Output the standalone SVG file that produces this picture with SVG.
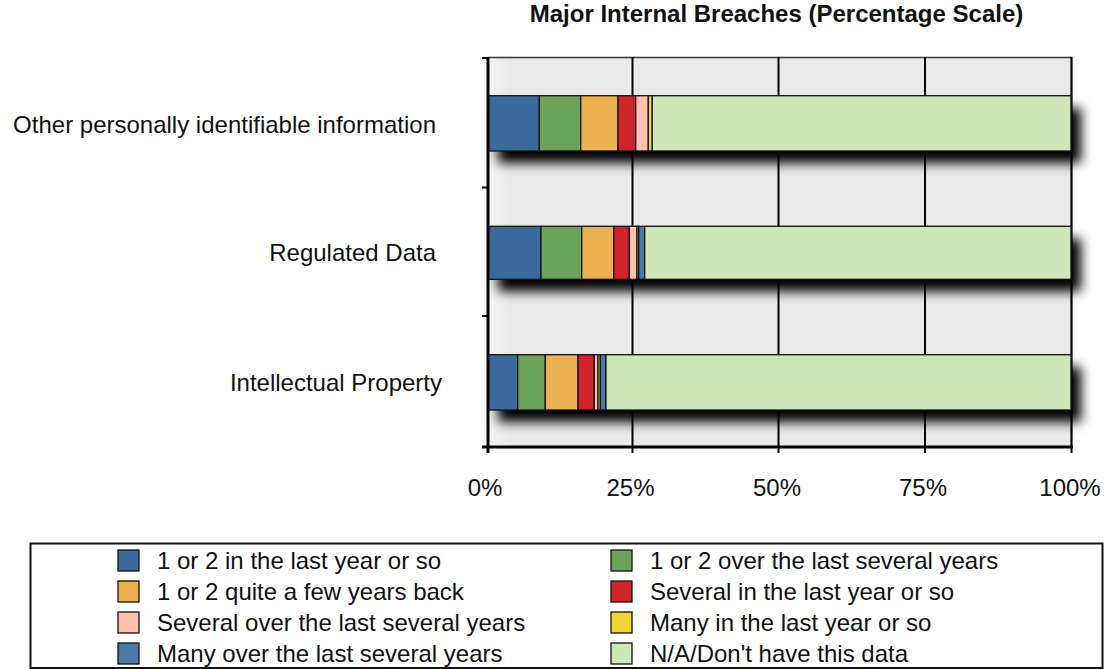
<svg xmlns="http://www.w3.org/2000/svg" width="1110" height="669" viewBox="0 0 1110 669">
<style>
text{font-family:"Liberation Sans",Arial,Helvetica,sans-serif;font-size:24px;fill:#111}
.title{font-weight:bold;font-size:24px}
.seg{stroke:#111;stroke-width:1.3}
.grid{stroke:#000;stroke-width:2}
.axis{stroke:#000;stroke-width:3}
.c1{fill:#3a6a9b}.c2{fill:#6ca35a}.c3{fill:#ecb04e}.c4{fill:#d0232c}
.c5{fill:#ffc1ab}.c6{fill:#f2d432}.c7{fill:#4d79a8}.c8{fill:#cde8b6}
</style>
<defs>
<filter id="sh" x="-5%" y="-40%" width="115%" height="200%">
<feGaussianBlur in="SourceAlpha" stdDeviation="6"/>
<feOffset dx="10" dy="12" result="b"/>
<feComponentTransfer><feFuncA type="linear" slope="1"/></feComponentTransfer>
</filter>
<linearGradient id="bg" x1="0" y1="0" x2="1" y2="0">
<stop offset="0" stop-color="#f4f4f4"/><stop offset="0.04" stop-color="#e9e9e9"/><stop offset="1" stop-color="#e9e9e9"/>
</linearGradient>
</defs>
<rect width="1110" height="669" fill="#fff"/>
<text class="title" x="776.5" y="22" text-anchor="middle">Major Internal Breaches (Percentage Scale)</text>
<g id="plot">
<rect x="488" y="57.5" width="583.5" height="389.5" fill="url(#bg)" stroke="#333" stroke-width="1.5"/>
</g>
<g id="shadows" filter="url(#sh)">
<rect x="488" y="95.7" width="583" height="55.3" fill="#000"/>
<rect x="488" y="226.3" width="583" height="53" fill="#000"/>
<rect x="488" y="354.7" width="583" height="55.3" fill="#000"/>
</g>
<g id="gridlines">
<line class="grid" x1="632.5" y1="57" x2="632.5" y2="453"/>
<line class="grid" x1="778.5" y1="57" x2="778.5" y2="453"/>
<line class="grid" x1="925" y1="57" x2="925" y2="453"/>
<line class="grid" x1="1071.5" y1="57" x2="1071.5" y2="453"/>
</g>
<g id="bar-other">
<rect class="seg c1" x="488" y="95.7" width="51.3" height="55.3"/>
<rect class="seg c2" x="539.3" y="95.7" width="41.4" height="55.3"/>
<rect class="seg c3" x="580.7" y="95.7" width="37.3" height="55.3"/>
<rect class="seg c4" x="618" y="95.7" width="17.7" height="55.3"/>
<rect class="seg c5" x="635.7" y="95.7" width="12.6" height="55.3"/>
<rect class="seg c6" x="648.3" y="95.7" width="4" height="55.3"/>
<rect class="seg c8" x="652.3" y="95.7" width="418.7" height="55.3"/>
</g>
<g id="bar-regulated">
<rect class="seg c1" x="488" y="226.3" width="53" height="53"/>
<rect class="seg c2" x="541" y="226.3" width="40.7" height="53"/>
<rect class="seg c3" x="581.7" y="226.3" width="32" height="53"/>
<rect class="seg c4" x="613.7" y="226.3" width="15.6" height="53"/>
<rect class="seg c5" x="629.3" y="226.3" width="7.7" height="53"/>
<rect class="seg c6" x="637" y="226.3" width="1.7" height="53"/>
<rect class="seg c7" x="638.7" y="226.3" width="6" height="53"/>
<rect class="seg c8" x="644.7" y="226.3" width="426.3" height="53"/>
</g>
<g id="bar-ip">
<rect class="seg c1" x="488" y="354.7" width="29.7" height="55.3"/>
<rect class="seg c2" x="517.7" y="354.7" width="27.6" height="55.3"/>
<rect class="seg c3" x="545.3" y="354.7" width="32.7" height="55.3"/>
<rect class="seg c4" x="578" y="354.7" width="16.3" height="55.3"/>
<rect class="seg c5" x="594.3" y="354.7" width="3.7" height="55.3"/>
<rect class="seg c6" x="598" y="354.7" width="2.3" height="55.3"/>
<rect class="seg c7" x="600.3" y="354.7" width="5.7" height="55.3"/>
<rect class="seg c8" x="606" y="354.7" width="465" height="55.3"/>
</g>
<g id="axes">
<line class="axis" x1="488" y1="57" x2="488" y2="453"/>
<line class="axis" x1="482" y1="447" x2="1073" y2="447"/>
<line class="grid" x1="482" y1="58" x2="488" y2="58"/>
<line class="grid" x1="482" y1="187.5" x2="488" y2="187.5"/>
<line class="grid" x1="482" y1="316" x2="488" y2="316"/>
</g>
<g id="labels">
<text x="436" y="133" text-anchor="end">Other personally identifiable information</text>
<text x="436" y="261" text-anchor="end">Regulated Data</text>
<text x="442" y="391" text-anchor="end">Intellectual Property</text>
<text x="485" y="496" text-anchor="middle">0%</text>
<text x="630.5" y="496" text-anchor="middle">25%</text>
<text x="777" y="496" text-anchor="middle">50%</text>
<text x="923" y="496" text-anchor="middle">75%</text>
<text x="1070" y="496" text-anchor="middle">100%</text>
</g>
<g id="legend">
<rect x="30.5" y="543.5" width="1072" height="124.5" fill="#fff" stroke="#111" stroke-width="2"/>
<rect class="seg c1" x="118" y="550" width="21" height="21"/>
<text x="157" y="569">1 or 2 in the last year or so</text>
<rect class="seg c3" x="118" y="581" width="21" height="21"/>
<text x="157" y="600">1 or 2 quite a few years back</text>
<rect class="seg c5" x="118" y="612" width="21" height="21"/>
<text x="157" y="631">Several over the last several years</text>
<rect class="seg c7" x="118" y="643" width="21" height="21"/>
<text x="157" y="662">Many over the last several years</text>
<rect class="seg c2" x="611" y="550" width="21" height="21"/>
<text x="650" y="569">1 or 2 over the last several years</text>
<rect class="seg c4" x="611" y="581" width="21" height="21"/>
<text x="650" y="600">Several in the last year or so</text>
<rect class="seg c6" x="611" y="612" width="21" height="21"/>
<text x="650" y="631">Many in the last year or so</text>
<rect class="seg c8" x="611" y="643" width="21" height="21"/>
<text x="650" y="662">N/A/Don't have this data</text>
</g>
</svg>
